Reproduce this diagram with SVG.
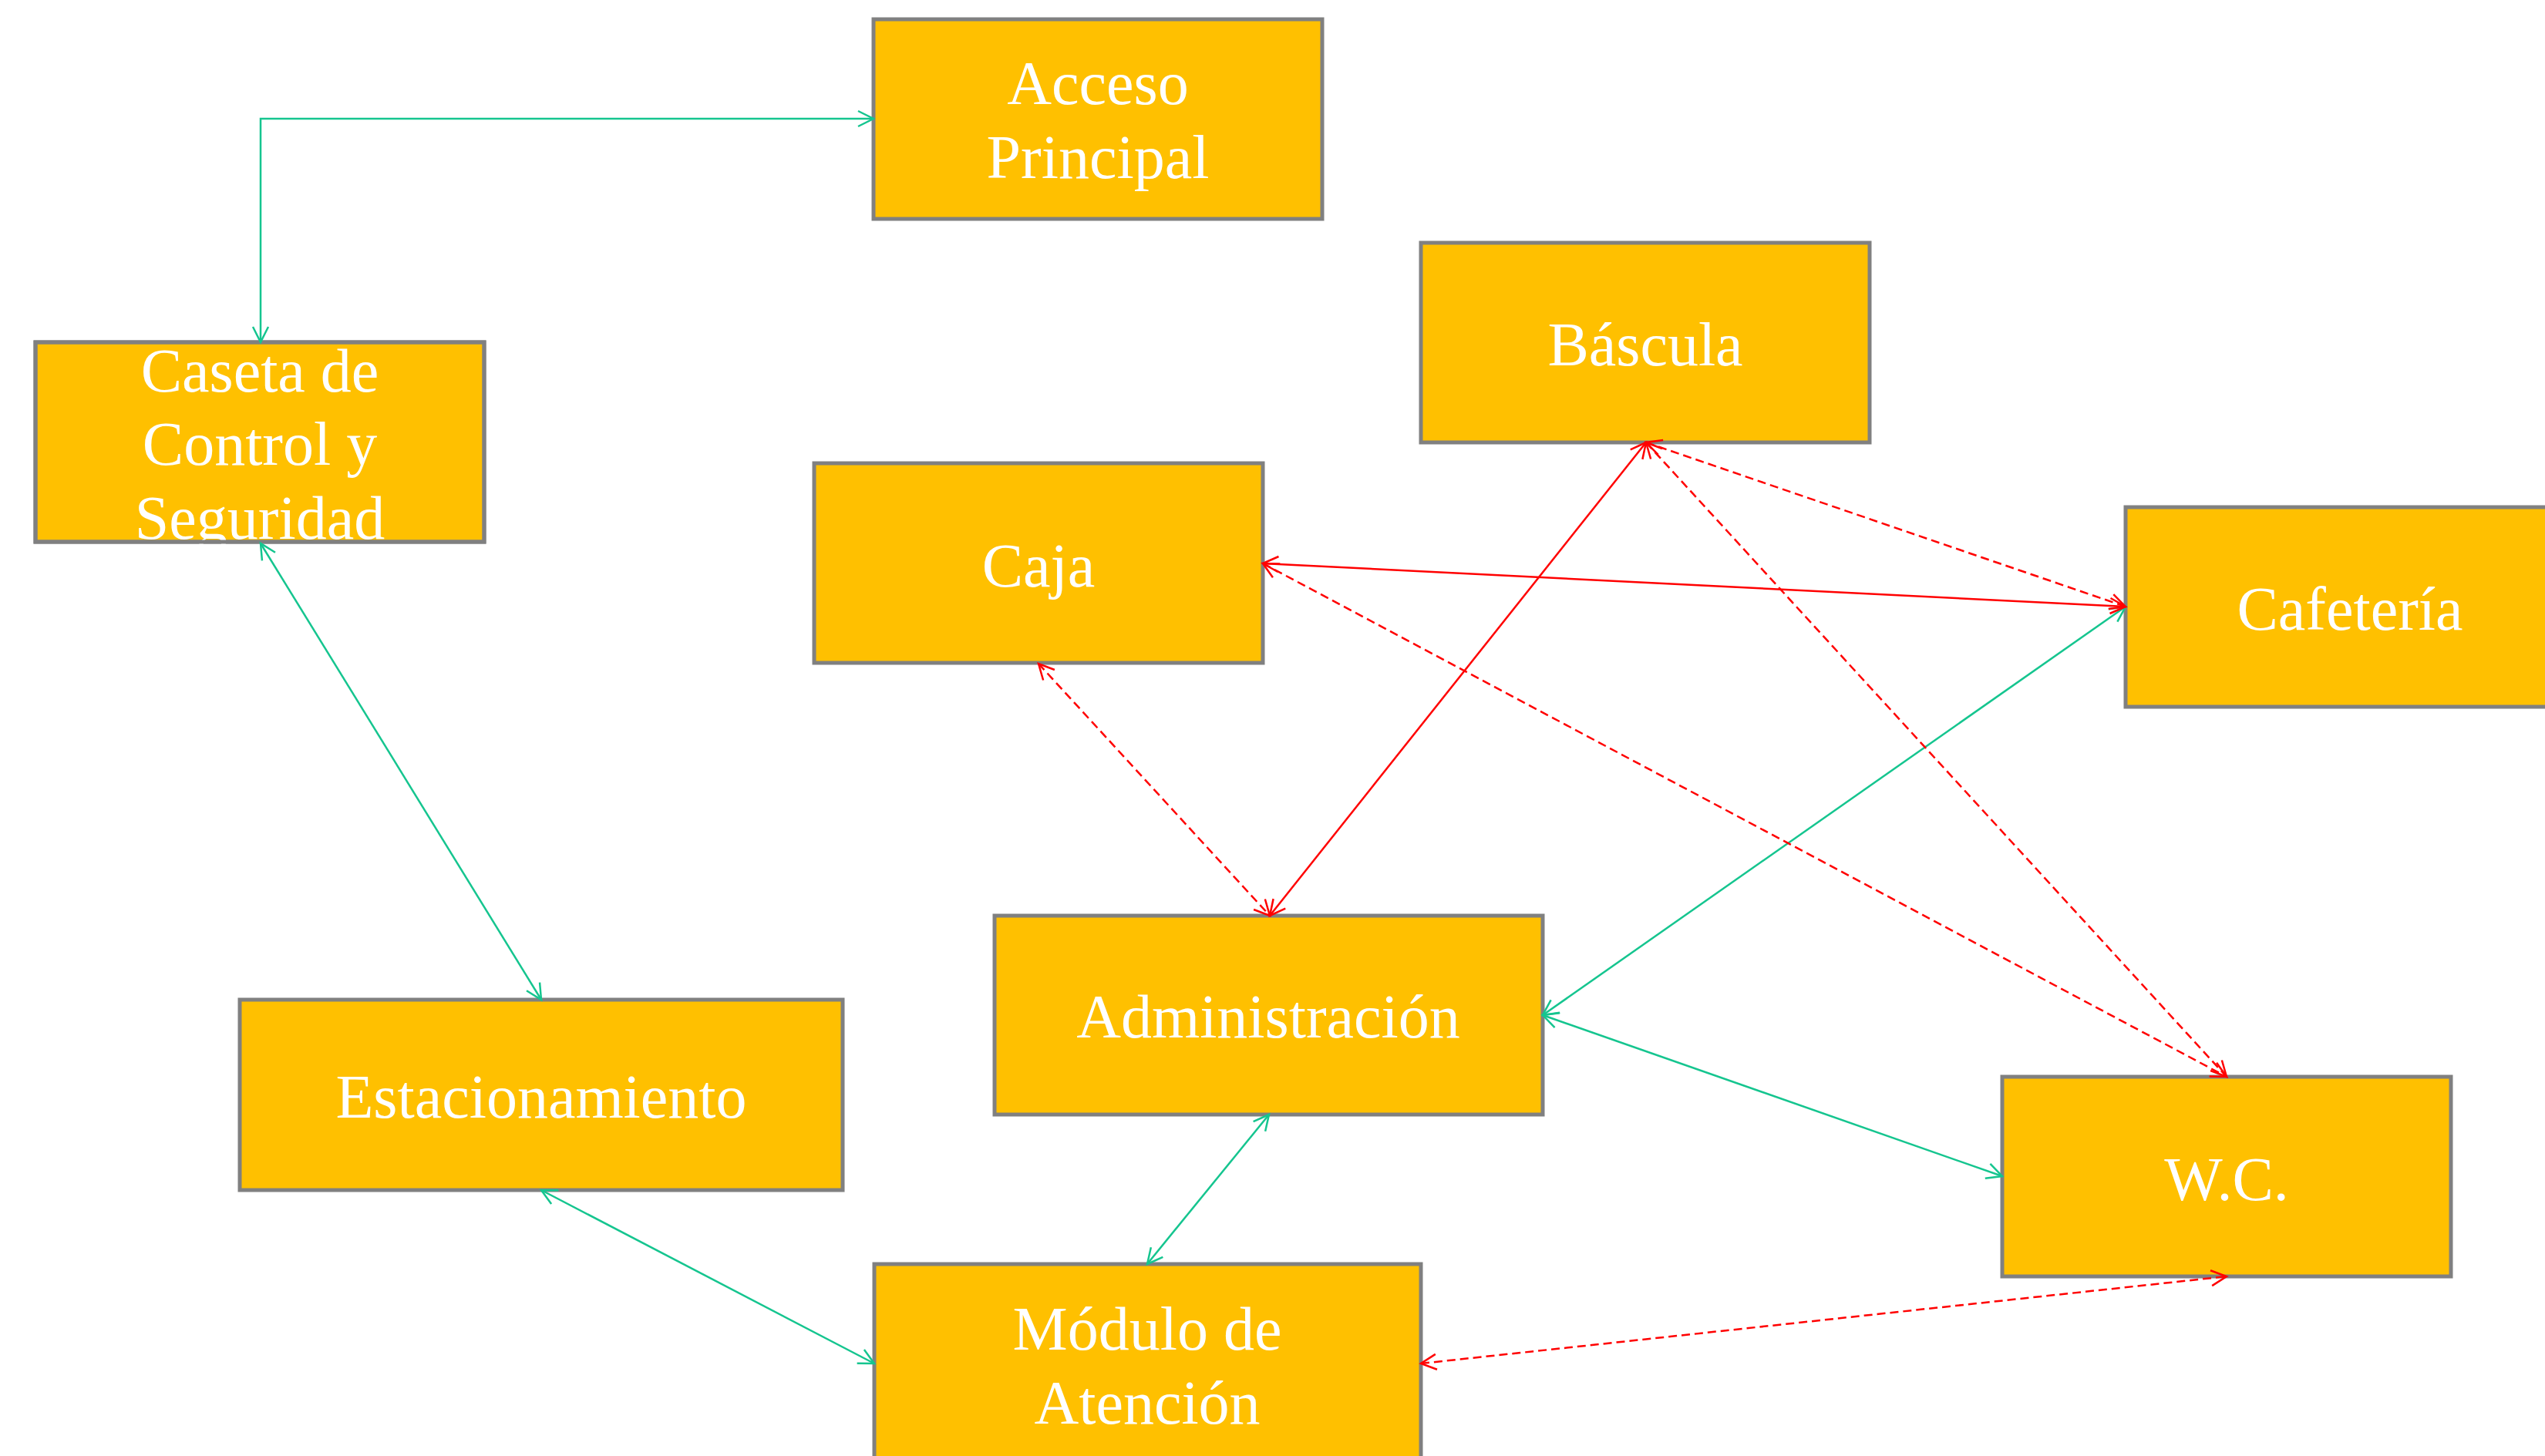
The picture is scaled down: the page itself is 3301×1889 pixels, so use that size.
<svg xmlns="http://www.w3.org/2000/svg" width="3301" height="1889" viewBox="0 0 3301 1889">
<style>
.box{fill:#FFC000;stroke:#808080;stroke-width:5}
.edge{fill:none;stroke:#808080;stroke-width:5}
.lbl{font-family:"Liberation Serif","Times New Roman",serif;font-size:80px;fill:#FFFFFF;text-anchor:middle}
.g{fill:none;stroke:#15C58F;stroke-width:2.5;marker-start:url(#ag);marker-end:url(#ag)}
.r{fill:none;stroke:#FF0000;stroke-width:2.5;marker-start:url(#ar);marker-end:url(#ar)}
.d{stroke-dasharray:11 6}
</style>
<defs>
<marker id="ag" markerUnits="userSpaceOnUse" viewBox="-24 -14 28 28" markerWidth="28" markerHeight="28" refX="0" refY="0" orient="auto-start-reverse">
<path d="M-20,-10 L0,0 L-20,10" fill="none" stroke="#15C58F" stroke-width="2.5"/>
</marker>
<marker id="ar" markerUnits="userSpaceOnUse" viewBox="-24 -14 28 28" markerWidth="28" markerHeight="28" refX="0" refY="0" orient="auto-start-reverse">
<path d="M-20,-10 L0,0 L-20,10" fill="none" stroke="#FF0000" stroke-width="2.5"/>
</marker>
</defs>
<rect width="3301" height="1889" fill="#FFFFFF"/>
<g id="acceso">
<rect class="box" x="1133" y="25" width="582" height="259"/>
<text class="lbl" x="1424" y="135">Acceso</text>
<text class="lbl" x="1424" y="231">Principal</text>
</g>
<g id="caseta">
<rect class="box" x="46" y="444" width="582" height="259"/>
<text class="lbl" x="337" y="508">Caseta de</text>
<text class="lbl" x="337" y="603">Control y</text>
<text class="lbl" x="337" y="699">Seguridad</text>
<rect class="edge" x="46" y="444" width="582" height="259"/>
</g>
<g id="bascula">
<rect class="box" x="1843" y="315" width="582" height="259"/>
<text class="lbl" x="2134" y="474">Báscula</text>
</g>
<g id="caja">
<rect class="box" x="1056" y="601" width="582" height="259"/>
<text class="lbl" x="1347" y="761">Caja</text>
</g>
<g id="cafeteria">
<rect class="box" x="2757" y="658" width="582" height="259"/>
<text class="lbl" x="3048" y="817">Cafetería</text>
</g>
<g id="administracion">
<rect class="box" x="1290" y="1188" width="711" height="258"/>
<text class="lbl" x="1645" y="1346">Administración</text>
</g>
<g id="estacionamiento">
<rect class="box" x="311" y="1297" width="782" height="247"/>
<text class="lbl" x="702" y="1450">Estacionamiento</text>
</g>
<g id="wc">
<rect class="box" x="2597" y="1397" width="582" height="259"/>
<text class="lbl" x="2888" y="1557">W.C.</text>
</g>
<g id="modulo">
<rect class="box" x="1134" y="1640" width="709" height="258"/>
<text class="lbl" x="1488" y="1751">Módulo de</text>
<text class="lbl" x="1488" y="1847">Atención</text>
</g>
<g id="connectors">
<path class="g" d="M338,444 L338,154 L1133,154"/>
<path class="g" d="M338,705 L702,1297"/>
<path class="g" d="M702,1544 L1134,1769"/>
<path class="g" d="M1488,1640 L1646,1446"/>
<path class="g" d="M2001,1317 L2757,787"/>
<path class="g" d="M2001,1317 L2597,1526"/>
<path class="r" d="M1638,731 L2757,787"/>
<path class="r" d="M2135,574 L1647,1188"/>
<path class="r d" d="M2135,574 L2757,787"/>
<path class="r d" d="M2135,574 L2888,1397"/>
<path class="r d" d="M1638,731 L2888,1397"/>
<path class="r d" d="M1347,861 L1647,1188"/>
<path class="r d" d="M1843,1769 L2888,1656"/>
</g>
</svg>
